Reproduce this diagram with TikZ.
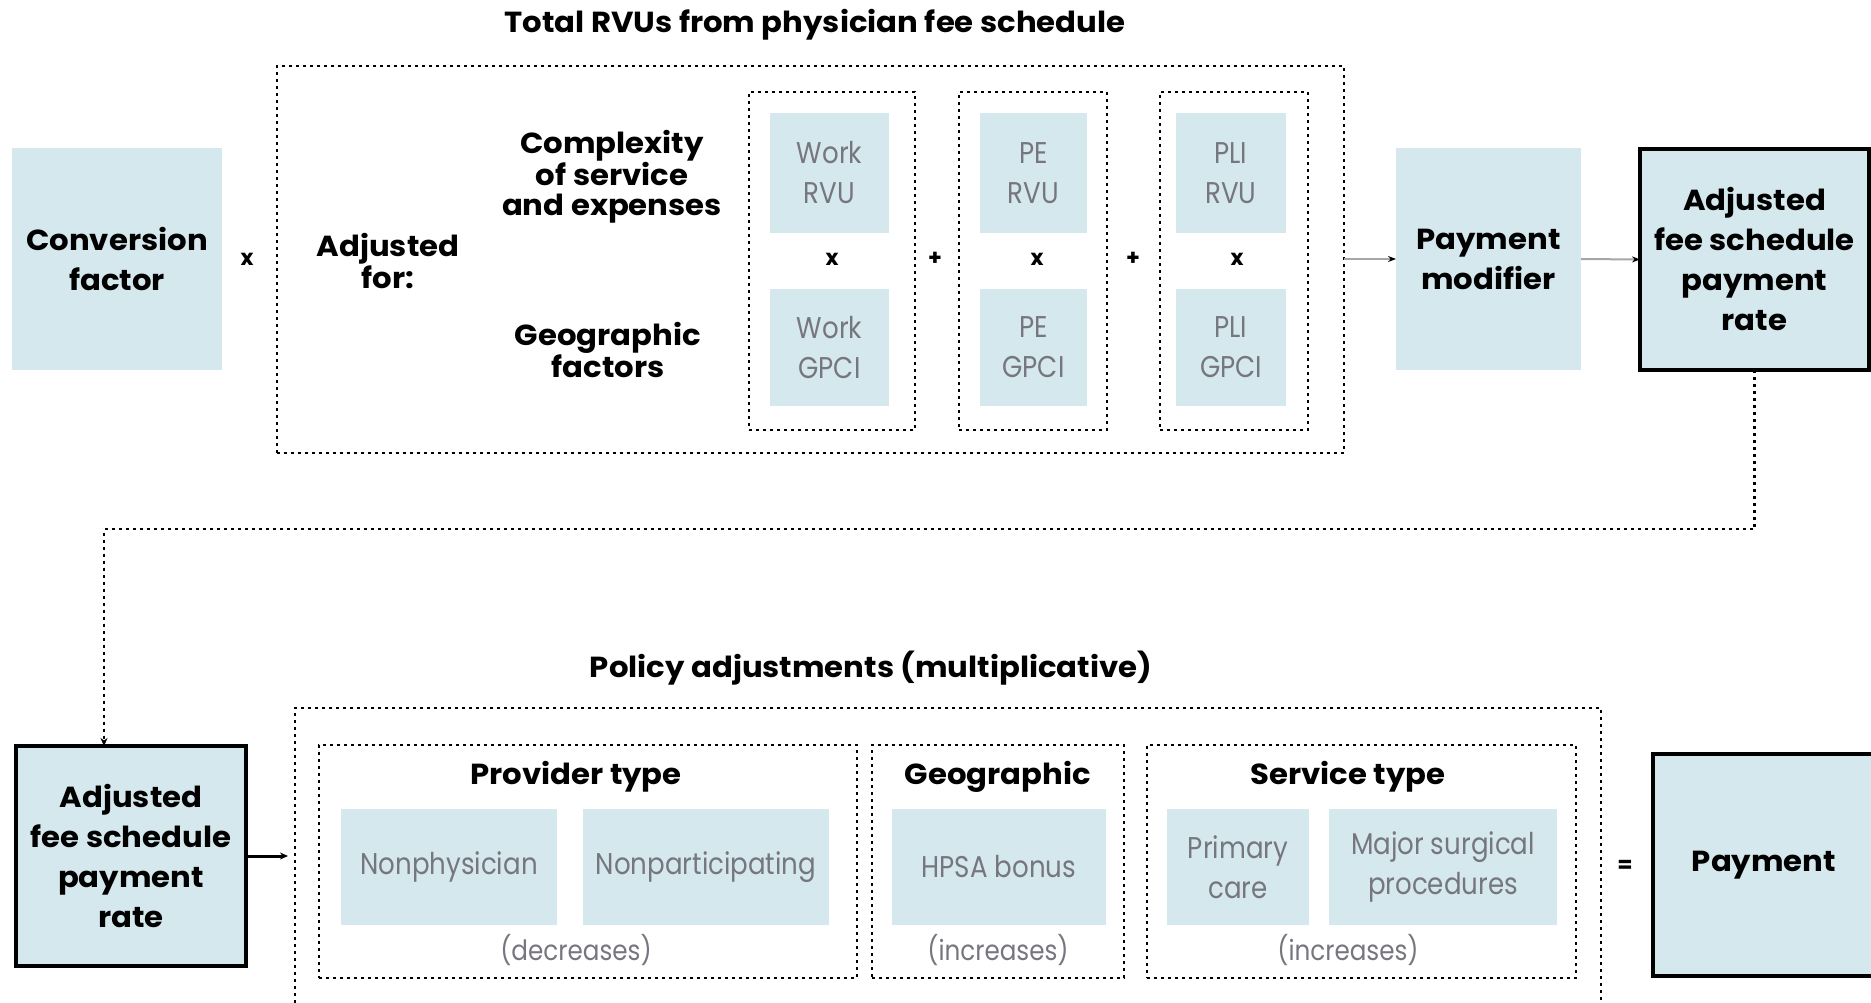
\documentclass[tikz,border=0pt]{standalone}
\usepackage{fontspec}
\setmainfont{Poppins}
\newfontfamily\headfont{Poppins}[FakeStretch=1.06]
\newfontfamily\lightfont{Poppins}[FakeStretch=0.87]
\newfontfamily\notefont{Poppins}[FakeStretch=0.88]
\usetikzlibrary{arrows.meta,calc}
\definecolor{boxfill}{RGB}{213,232,237}
\definecolor{softtext}{RGB}{118,118,126}

\begin{document}
\begin{tikzpicture}[x=1pt,y=-1pt,
  every node/.style={inner sep=0pt, outer sep=0pt},
  lbox/.style={fill=boxfill, align=center, font=\headfont\bfseries\fontsize{29}{40}\selectfont},
  kbox/.style={lbox, draw=black, line width=3.5pt},
  sbox/.style={fill=boxfill, align=center, text=softtext, font=\lightfont\fontsize{30}{40}\selectfont},
  dotbox/.style={draw=black, line width=2.6pt, dash pattern=on 3pt off 4pt},
  lab/.style={align=center, font=\headfont\bfseries\fontsize{29}{30}\selectfont},
  op/.style={font=\bfseries\fontsize{22}{22}\selectfont},
  note/.style={text=softtext, font=\notefont\fontsize{28}{28}\selectfont},
  thinarrow/.style={draw=gray!70, line width=2pt, -{Stealth[length=8pt,width=6pt,black]}},
  darrow/.style={draw=black, line width=2.6pt, dash pattern=on 3pt off 4pt, -{Stealth[length=8pt,width=7pt,black]}}
]
\useasboundingbox (0,0) rectangle (1871,1003);

% ---------- upper part: total RVUs ----------
\node[lab] (title1) at (815,25) {Total RVUs from physician fee schedule};
\node[dotbox, minimum width=1067, minimum height=387] (rvu) at (810.5,259.5) {};

\node[lbox, minimum width=210, minimum height=222] (conv) at (117,259) {Conversion\\factor};
\node[op] (times0) at (247,259) {x};

\node[lab] (adjfor) at (388,261) {Adjusted\\for:};
\node[lab] (complex) at (612,177) {Complexity\\of service\\and expenses};
\node[lab] (geofac) at (608,350) {Geographic\\factors};

\node[dotbox, minimum width=166, minimum height=338] (colA) at (832,261) {};
\node[dotbox, minimum width=148, minimum height=338] (colB) at (1033,261) {};
\node[dotbox, minimum width=148, minimum height=338] (colC) at (1234,261) {};

\node[sbox, minimum width=119, minimum height=120] (workrvu) at (829.5,173) {Work\\RVU};
\node[sbox, minimum width=119, minimum height=117] (workgpci) at (829.5,347.5) {Work\\GPCI};
\node[sbox, minimum width=107, minimum height=120] (pervu) at (1033.5,173) {PE\\RVU};
\node[sbox, minimum width=107, minimum height=117] (pegpci) at (1033.5,347.5) {PE\\GPCI};
\node[sbox, minimum width=110, minimum height=120] (plirvu) at (1231,173) {PLI\\RVU};
\node[sbox, minimum width=110, minimum height=117] (pligpci) at (1231,347.5) {PLI\\GPCI};

\node[op] (timesA) at (832,259) {x};
\node[op] (timesB) at (1037,259) {x};
\node[op] (timesC) at (1237,259) {x};
\node[op] (plusA) at (935,259) {+};
\node[op] (plusB) at (1133,259) {+};

\node[lbox, minimum width=185, minimum height=222] (paymod) at (1488.5,259) {Payment\\modifier};
\node[kbox, minimum width=229, minimum height=221] (adjtop) at (1754.5,259.5) {Adjusted\\fee schedule\\payment\\rate};

\draw[thinarrow] (rvu.east |- paymod.west) -- (paymod.west);
\draw[thinarrow] (paymod.east) -- (adjtop.west);

% ---------- lower part: policy adjustments ----------
\node[kbox, minimum width=230, minimum height=220] (adjbot) at (131,856) {Adjusted\\fee schedule\\payment\\rate};

\coordinate (bend) at (104,529);
\draw[darrow] (adjtop.south) |- (bend) -- (bend |- adjbot.north);

\node[lab] (title2) at (871,668) {Policy adjustments (multiplicative)};
\node[dotbox, line width=2.3pt, minimum width=1306, minimum height=330] (pol) at (948,873) {};

\draw[draw=black, line width=3pt, -{Stealth[length=8pt,width=7pt]}] (adjbot.east) -- ++(42,0);

\node[dotbox, minimum width=538, minimum height=233] (prov) at (588,861.5) {};
\node[dotbox, minimum width=252, minimum height=233] (geo) at (998,861.5) {};
\node[dotbox, minimum width=429, minimum height=233] (serv) at (1361.5,861.5) {};

\node[lab] (provh) at (576,777) {Provider type};
\node[lab] (geoh) at (998,777) {Geographic};
\node[lab] (servh) at (1348,777) {Service type};

\node[sbox, minimum width=216, minimum height=116] (nonphys) at (449,867) {Nonphysician};
\node[sbox, minimum width=246, minimum height=116] (nonpart) at (706,867) {Nonparticipating};
\node[sbox, minimum width=214, minimum height=116] (hpsa) at (999,867) {HPSA bonus};
\node[sbox, minimum width=142, minimum height=116] (primary) at (1238,867) {Primary\\care};
\node[sbox, minimum width=228, minimum height=116] (major) at (1443,867) {Major surgical\\procedures};

\node[note] (decr) at (576,950) {(decreases)};
\node[note] (incrA) at (998,950) {(increases)};
\node[note] (incrB) at (1348,950) {(increases)};

\node[op] (equals) at (1625,866) {=};
\node[kbox, minimum width=222, minimum height=222] (payment) at (1764,865) {Payment};

\end{tikzpicture}
\end{document}
